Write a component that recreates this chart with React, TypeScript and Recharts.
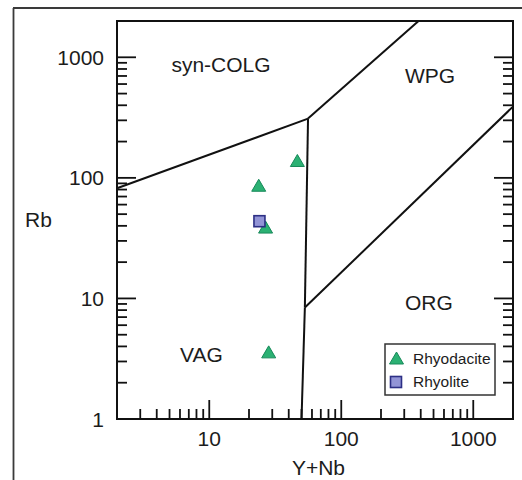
import React from 'react';
import { ScatterChart, Scatter, XAxis, YAxis, ReferenceLine, Customized } from 'recharts';

// ---- data ----
const rhyodaciteYNb = [23.7, 46.5, 26.7, 28.2];
const rhyodaciteRb = [86, 138, 38.7, 3.57];
const rhyoliteYNb = [24];
const rhyoliteRb = [43.7];

// discrimination boundaries (Y+Nb, Rb) vertices
const boundarySynColVag = [[2, 82], [56, 310]];
const boundarySynColWpg = [[56, 310], [385, 2000]];
const boundaryVagOrg = [[56, 310], [53, 8.4], [50, 1]];
const boundaryWpgOrg = [[53, 8.4], [2000, 390]];

const xDomain = [2, 2000];
const yDomain = [1, 2000];
const xMajorTicks = [10, 100, 1000];
const xMinorTicks = [3, 4, 5, 6, 7, 8, 9, 20, 30, 40, 50, 60, 70, 80, 90, 200, 300, 400, 500, 600, 700, 800, 900];
const yMajorTicks = [1, 10, 100, 1000];
const yMinorTicks = [2, 3, 4, 5, 6, 7, 8, 9, 20, 30, 40, 50, 60, 70, 80, 90, 200, 300, 400, 500, 600, 700, 800, 900];
const xTickLabels = ['10', '100', '1000'];
const yTickLabels = ['1', '10', '100', '1000'];

const regionLabels = ['syn-COLG', 'WPG', 'VAG', 'ORG'];
const seriesNames = ['Rhyodacite', 'Rhyolite'];
const axisTitles = ['Y+Nb', 'Rb'];

const rhyodaciteData = rhyodaciteYNb.map((x, i) => ({ x, y: rhyodaciteRb[i] }));
const rhyoliteData = rhyoliteYNb.map((x, i) => ({ x, y: rhyoliteRb[i] }));
const xTicks = [...xMinorTicks, ...xMajorTicks].sort((a, b) => a - b);
const yTicks = [...yMinorTicks, ...yMajorTicks].sort((a, b) => a - b);

const segmentsOf = (pts: number[][]) =>
  pts.slice(1).map((p, i) => [
    { x: pts[i][0], y: pts[i][1] },
    { x: p[0], y: p[1] },
  ]);
const allSegments = [
  ...segmentsOf(boundarySynColVag),
  ...segmentsOf(boundarySynColWpg),
  ...segmentsOf(boundaryVagOrg),
  ...segmentsOf(boundaryWpgOrg),
];

// ---- styles ----
const FONT = '"Liberation Sans", Arial, Helvetica, sans-serif';
const TEXT = '#1c1c1c';
const MAJOR_LEN = 19;
const MINOR_LEN = 10;
const TRI_FILL = '#2bb173';
const TRI_STROKE = '#17895a';
const SQ_FILL = '#9294d6';
const SQ_STROKE = '#2d2f85';

const makeTick = (side: string, majors: number[], labels: string[] | null) => (props: any) => {
  const { x, y, payload } = props;
  const v = payload.value;
  const idx = majors.indexOf(v);
  const major = idx >= 0;
  const len = major ? MAJOR_LEN : MINOR_LEN;
  let x2 = x;
  let y2 = y;
  if (side === 'bottom') y2 = y - len;
  if (side === 'top') y2 = y + len;
  if (side === 'left') x2 = x + len;
  if (side === 'right') x2 = x - len;
  let label = null;
  if (labels && major) {
    if (side === 'bottom') {
      label = (
        <text x={x} y={y + 27} textAnchor="middle" fontSize={21} fontFamily={FONT} fill={TEXT}>
          {labels[idx]}
        </text>
      );
    } else if (side === 'left') {
      label = (
        <text x={x - 13} y={y + 7.5} textAnchor="end" fontSize={21} fontFamily={FONT} fill={TEXT}>
          {labels[idx]}
        </text>
      );
    }
  }
  return (
    <g>
      <line x1={x} y1={y} x2={x2} y2={y2} stroke="#111" strokeWidth={1.8} />
      {label}
    </g>
  );
};

const Triangle = (props: any) => {
  const { cx, cy } = props;
  if (cx == null || cy == null) return null;
  return (
    <polygon
      points={`${cx},${cy - 6.5} ${cx + 7},${cy + 5.5} ${cx - 7},${cy + 5.5}`}
      fill={TRI_FILL}
      stroke={TRI_STROKE}
      strokeWidth={1}
    />
  );
};

const Square = (props: any) => {
  const { cx, cy } = props;
  if (cx == null || cy == null) return null;
  return (
    <g>
      <rect x={cx - 5.5} y={cy - 5.5} width={11} height={11} fill={SQ_FILL} stroke={SQ_STROKE} strokeWidth={1.6} />
    </g>
  );
};

const Decorations = () => (
  <g>
    {/* outer figure frame */}
    <line x1={13.5} y1={8} x2={13.5} y2={480} stroke="#3a3a3a" strokeWidth={1.8} />
    <line x1={13} y1={8} x2={522} y2={8} stroke="#3a3a3a" strokeWidth={1.8} />
    {/* region labels */}
    <text x={221} y={72} textAnchor="middle" fontSize={21} fontFamily={FONT} fill={TEXT}>{regionLabels[0]}</text>
    <text x={405} y={83} fontSize={21} fontFamily={FONT} fill={TEXT}>{regionLabels[1]}</text>
    <text x={180} y={361.5} fontSize={21} fontFamily={FONT} fill={TEXT}>{regionLabels[2]}</text>
    <text x={405} y={310} fontSize={21} fontFamily={FONT} fill={TEXT}>{regionLabels[3]}</text>
    {/* axis titles */}
    <text x={318.5} y={475} textAnchor="middle" fontSize={21} fontFamily={FONT} fill={TEXT}>{axisTitles[0]}</text>
    <text x={25} y={227} fontSize={21} fontFamily={FONT} fill={TEXT}>{axisTitles[1]}</text>
    {/* legend */}
    <rect x={385} y={344} width={110} height={51} fill="#fff" stroke="#333" strokeWidth={1.5} />
    <Triangle cx={396.5} cy={358.5} />
    <text x={413} y={364} fontSize={15.5} fontFamily={FONT} fill={TEXT}>{seriesNames[0]}</text>
    <Square cx={396} cy={382} />
    <text x={413} y={387} fontSize={15.5} fontFamily={FONT} fill={TEXT}>{seriesNames[1]}</text>
  </g>
);

const axisLine = { stroke: '#111', strokeWidth: 2, strokeLinecap: 'square' as const };

export default function App() {
  return (
    <div style={{ position: 'fixed', left: 0, top: 0, width: 522, height: 480, background: '#fff' }}>
      <ScatterChart width={522} height={480} margin={{ top: 0, right: 0, bottom: 0, left: 0 }}>
        <XAxis
          xAxisId={0}
          type="number"
          dataKey="x"
          scale="log"
          domain={xDomain}
          allowDataOverflow
          ticks={xTicks}
          interval={0}
          height={61}
          tickSize={0}
          tickMargin={0}
          tickLine={false}
          axisLine={axisLine}
          tick={makeTick('bottom', xMajorTicks, xTickLabels)}
        />
        <XAxis
          xAxisId="top"
          orientation="top"
          type="number"
          scale="log"
          domain={xDomain}
          allowDataOverflow
          ticks={xTicks}
          interval={0}
          height={21}
          tickSize={0}
          tickMargin={0}
          tickLine={false}
          axisLine={axisLine}
          tick={makeTick('top', xMajorTicks, null)}
        />
        <YAxis
          yAxisId={0}
          type="number"
          dataKey="y"
          scale="log"
          domain={yDomain}
          allowDataOverflow
          ticks={yTicks}
          interval={0}
          width={117}
          tickSize={0}
          tickMargin={0}
          tickLine={false}
          axisLine={axisLine}
          tick={makeTick('left', yMajorTicks, yTickLabels)}
        />
        <YAxis
          yAxisId="right"
          orientation="right"
          type="number"
          scale="log"
          domain={yDomain}
          allowDataOverflow
          ticks={yTicks}
          interval={0}
          width={9}
          tickSize={0}
          tickMargin={0}
          tickLine={false}
          axisLine={axisLine}
          tick={makeTick('right', yMajorTicks, null)}
        />
        {allSegments.map((seg, i) => (
          <ReferenceLine
            key={i}
            xAxisId={0}
            yAxisId={0}
            segment={seg}
            stroke="#111"
            strokeWidth={2}
            ifOverflow="visible"
          />
        ))}
        <Scatter
          name={seriesNames[0]}
          data={rhyodaciteData}
          xAxisId={0}
          yAxisId={0}
          shape={Triangle}
          isAnimationActive={false}
        />
        <Scatter
          name={seriesNames[1]}
          data={rhyoliteData}
          xAxisId={0}
          yAxisId={0}
          shape={Square}
          isAnimationActive={false}
        />
        <Customized component={Decorations} />
      </ScatterChart>
    </div>
  );
}
